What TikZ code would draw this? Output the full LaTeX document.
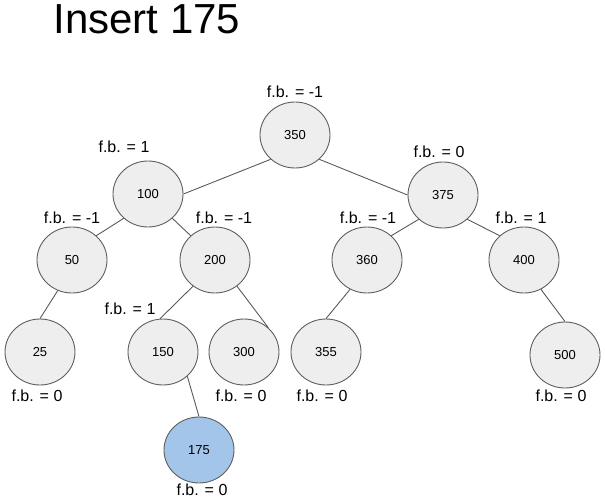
\documentclass[tikz,border=0pt]{standalone}
\usepackage{fontspec}
\setmainfont{Liberation Sans}
\usetikzlibrary{shapes.geometric}
\definecolor{nodefill}{HTML}{EEEEEE}
\definecolor{nodeline}{HTML}{5F5F5F}
\definecolor{bluefill}{HTML}{A3C5E9}
\definecolor{edgecol}{HTML}{5A5A5A}
\tikzset{
  treenode/.style={ellipse, draw=nodeline, fill=nodefill, line width=0.9pt,
    minimum width=70pt, minimum height=66pt, inner sep=0pt,
    font=\fontsize{13}{15}\selectfont},
  newnode/.style={treenode, fill=bluefill},
  fb/.style={font=\fontsize{16}{18}\selectfont, inner sep=0pt},
  edge/.style={draw=edgecol, line width=0.9pt},
}
\begin{document}
\begin{tikzpicture}[x=1pt,y=-1pt]
\useasboundingbox (0,0) rectangle (605,503);
\node[font=\fontsize{42}{46}\selectfont, inner sep=0pt] (title) at (147,19) {Insert 175};

\node[treenode] (n350) at (295,135) {350};
\node[treenode] (n100) at (148,194) {100};
\node[treenode] (n375) at (443,195) {375};
\node[treenode] (n50)  at (72,260) {50};
\node[treenode] (n200) at (215,260) {200};
\node[treenode] (n360) at (367,260) {360};
\node[treenode] (n400) at (524,260) {400};
\node[treenode] (n25)  at (40,352) {25};
\node[treenode] (n150) at (163,352) {150};
\node[treenode] (n300) at (244,352) {300};
\node[treenode] (n355) at (326,352) {355};
\node[treenode] (n500) at (565,355) {500};
\node[newnode]  (n175) at (199,450) {175};

\node[fb] (l350) at (295,92) {f.b. = -1};
\node[fb] (l100) at (124,147) {f.b. = 1};
\node[fb] (l375) at (439,152) {f.b. = 0};
\node[fb] (l50)  at (72,218) {f.b. = -1};
\node[fb] (l200) at (224,218) {f.b. = -1};
\node[fb] (l360) at (368,218) {f.b. = -1};
\node[fb] (l400) at (521,218) {f.b. = 1};
\node[fb] (l150) at (130,309) {f.b. = 1};
\node[fb] (l25)  at (37,396) {f.b. = 0};
\node[fb] (l300) at (241,396) {f.b. = 0};
\node[fb] (l355) at (322,396) {f.b. = 0};
\node[fb] (l500) at (561,396) {f.b. = 0};
\node[fb] (l175) at (202,490) {f.b. = 0};

\draw[edge] (n350.-135) -- (n100.east);
\draw[edge] (n350.-45) -- (n375.west);
\draw[edge] (n100.-135) -- (n50.45);
\draw[edge] (n100.-45) -- (n200.135);
\draw[edge] (n375.-135) -- (n360.45);
\draw[edge] (n375.-45) -- (n400.135);
\draw[edge] (n50.-115) -- (n25.north);
\draw[edge] (n200.-130) -- (n150.95);
\draw[edge] (n200.-50) -- (n300.45);
\draw[edge] (n360.-120) -- (n355.north);
\draw[edge] (n400.-60) -- (n500.north);
\draw[edge] (n150.-45) -- (n175.north);
\end{tikzpicture}
\end{document}
